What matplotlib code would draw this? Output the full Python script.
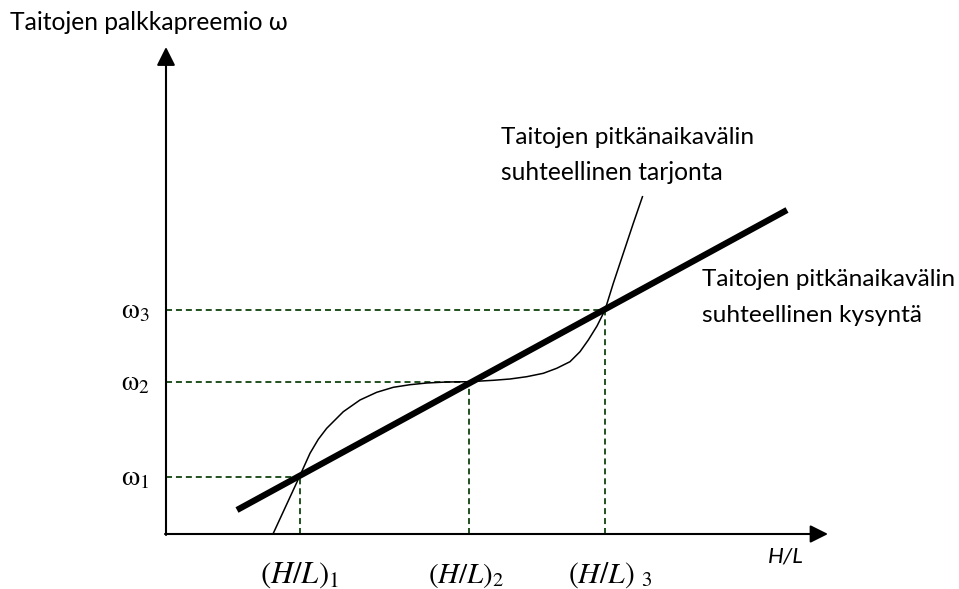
import matplotlib
matplotlib.use('Agg')
import matplotlib.pyplot as plt

# ---- data (diagram units, origin where the axes cross) ----
demand_x = [71, 621]
demand_y = [24, 324]

supply_x = [107.3, 133.3, 144, 152.3, 160.7, 177.3, 194, 210.7, 227.3, 244, 260.7,
            280.7, 303, 327.3, 344, 360.7, 377.3, 390.7, 404, 414, 422.3, 431, 439,
            447.3, 457.3, 467.3, 476.7]
supply_y = [0.7, 57, 80.7, 94.7, 105.7, 122.3, 134, 141.7, 146.7, 149.3, 151,
            152, 152.3, 153.7, 155, 157.3, 160.7, 165.7, 172.3, 182.3, 194, 208, 224,
            250.7, 280.7, 310.7, 338]

eq_x = [134, 303, 439]
eq_y = [57, 152, 224]
eq_x_labels = [r'$(H/L)_1$', r'$(H/L)_2$', r'$(H/L)\ {}_3$']
eq_y_labels = [r'$\mathrm{ω}_1$', r'$\mathrm{ω}_2$', r'$\mathrm{ω}_3$']

y_axis_title = 'Taitojen palkkapreemio ω'
x_axis_title = 'H/L'
supply_label = ['Taitojen pitkänaikavälin', 'suhteellinen tarjonta']
demand_label = ['Taitojen pitkänaikavälin', 'suhteellinen kysyntä']

# ---- figure ----
plt.rcParams['mathtext.fontset'] = 'stix'
SANS = ['Lato', 'DejaVu Sans']
W, H = 959, 589
OX, OY = 166, 534  # pixel position of origin
fig = plt.figure(figsize=(W / 100, H / 100), dpi=100)
ax = fig.add_axes([0, 0, 1, 1])
ax.set_xlim(-OX, W - OX)
ax.set_ylim(-(H - OY), OY)
ax.axis('off')

green = '#1a4a18'
dash = (0, (3.2, 2.1))
for x, y in zip(eq_x, eq_y):
    ax.plot([0, x], [y, y], color=green, lw=1.35, linestyle=dash, zorder=1)
    ax.plot([x, x], [0, y], color=green, lw=1.35, linestyle=dash, zorder=1)

# axes with arrows
ax.annotate('', xy=(0, 487), xytext=(0, -1),
            arrowprops=dict(arrowstyle='-|>', lw=1.5, color='black',
                            mutation_scale=28, shrinkA=0, shrinkB=0), zorder=3)
ax.annotate('', xy=(662, 0), xytext=(-1, 0),
            arrowprops=dict(arrowstyle='-|>', lw=1.5, color='black',
                            mutation_scale=27, shrinkA=0, shrinkB=0), zorder=3)

ax.plot(supply_x, supply_y, color='black', lw=1.1, zorder=2,
        solid_capstyle='butt', solid_joinstyle='round')
ax.plot(demand_x, demand_y, color='black', lw=4.5, zorder=2, solid_capstyle='butt')

texts = []
def add(x, y, s, target_w, **kw):
    t = ax.text(x, y, s, **kw)
    texts.append((t, target_w))
    return t

add(10 - OX, OY - 30, y_axis_title, 277, family=SANS, fontsize=18, va='baseline', ha='left')
add(768 - OX, OY - 563, x_axis_title, 36, family=SANS, style='italic', fontsize=18,
    va='baseline', ha='left')
add(501 - OX, OY - 144, supply_label[0], 251, family=SANS, fontsize=18, va='baseline')
add(501 - OX, OY - 180, supply_label[1], 221, family=SANS, fontsize=18, va='baseline')
add(702 - OX, OY - 286, demand_label[0], 251, family=SANS, fontsize=18, va='baseline')
add(702 - OX, OY - 322, demand_label[1], 218, family=SANS, fontsize=18, va='baseline')

x_lab_left = [260, 428, 568]
x_lab_w = [80, 77, 85]
for lab, lx, lw_ in zip(eq_x_labels, x_lab_left, x_lab_w):
    add(lx - OX, OY - 583, lab, lw_, fontsize=18, va='baseline', ha='left')

for lab, y in zip(eq_y_labels, eq_y):
    add(150 - OX, y, lab, 29, fontsize=18, va='center', ha='right')

fig.canvas.draw()
r = fig.canvas.get_renderer()
for t, tw in texts:
    w = t.get_window_extent(r).width
    t.set_fontsize(t.get_fontsize() * tw / w)

fig.savefig('out.png', dpi=100)
